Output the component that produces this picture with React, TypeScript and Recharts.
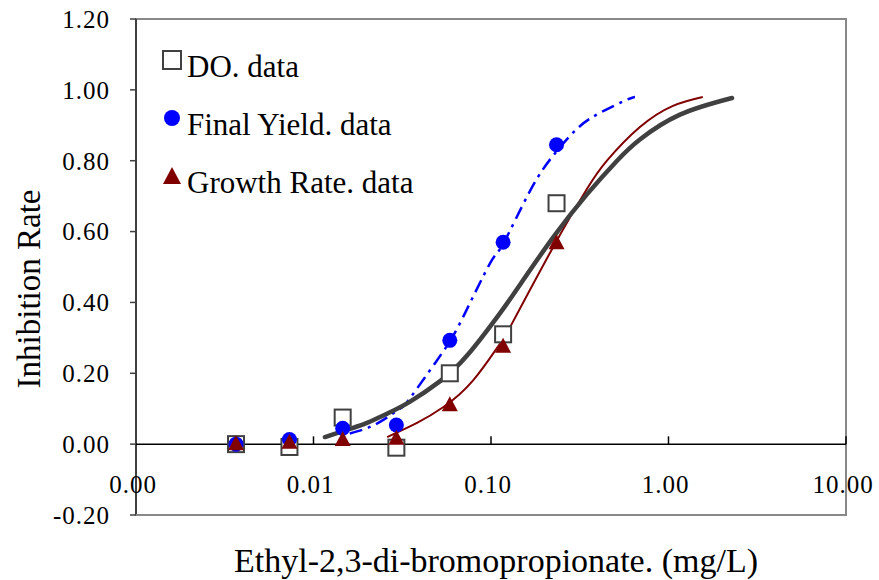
import React from 'react';
import {
  ComposedChart,
  Line,
  Scatter,
  XAxis,
  YAxis,
  ReferenceLine,
  ReferenceArea,
  Legend,
} from 'recharts';

// ---------------------------------------------------------------------------
// Data
// ---------------------------------------------------------------------------
const xTicks = [0.001, 0.01, 0.1, 1, 10];
const yTicks = [-0.2, 0, 0.2, 0.4, 0.6, 0.8, 1.0, 1.2];

// test concentrations (mg/L), two-fold dilution series
const concentrations = [0.00366, 0.00732, 0.0146, 0.0293, 0.0586, 0.117, 0.234];
const doValues = [0.0, -0.008, 0.075, -0.01, 0.2, 0.31, 0.68];
const yieldValues = [0.0, 0.013, 0.045, 0.054, 0.293, 0.57, 0.845];
const rateValues = [0.0, 0.004, 0.012, 0.015, 0.11, 0.275, 0.567];

// fitted dose-response curves, sampled off the figure
const doFitX = [0.0116, 0.0160, 0.020, 0.026, 0.035, 0.0517, 0.0733, 0.1125, 0.1457, 0.2234, 0.347, 0.513, 0.69, 1.16, 2.28];
const doFitY = [0.02, 0.043, 0.06, 0.086, 0.12, 0.178, 0.25, 0.37, 0.45, 0.583, 0.705, 0.8, 0.86, 0.93, 0.977];

const yieldFitX = [0.016, 0.02, 0.025, 0.0307, 0.035, 0.0497, 0.0586, 0.0698, 0.0987, 0.117, 0.166, 0.2244, 0.305, 0.411, 0.583, 0.647];
const yieldFitY = [0.03, 0.045, 0.07, 0.1, 0.13, 0.237, 0.29, 0.36, 0.51, 0.565, 0.715, 0.815, 0.89, 0.935, 0.972, 0.98];

const rateFitX = [0.026, 0.0383, 0.0537, 0.0793, 0.1125, 0.128, 0.2234, 0.347, 0.45, 0.69, 1.06, 1.56];
const rateFitY = [0.02, 0.06, 0.104, 0.18, 0.284, 0.33, 0.555, 0.72, 0.80, 0.895, 0.955, 0.98];

const zip = (xs: number[], ys: number[]) => xs.map((x, i) => ({ x, y: ys[i] }));

const doPoints = zip(concentrations, doValues);
const yieldPoints = zip(concentrations, yieldValues);
const ratePoints = zip(concentrations, rateValues);
const doFit = zip(doFitX, doFitY);
const yieldFit = zip(yieldFitX, yieldFitY);
const rateFit = zip(rateFitX, rateFitY);

const SERIF = '"Liberation Serif", "Times New Roman", serif';

// ---------------------------------------------------------------------------
// Marker shapes
// ---------------------------------------------------------------------------
const SquareMark = ({ cx, cy }: any) => (
  <rect x={cx - 8} y={cy - 8} width={16} height={16} fill="#fff" stroke="#404040" strokeWidth={2} />
);
const CircleMark = ({ cx, cy }: any) => <circle cx={cx} cy={cy} r={7.5} fill="#0000ff" />;
const TriangleMark = ({ cx, cy }: any) => (
  <path d={`M${cx},${cy - 9} L${cx + 8},${cy + 6} L${cx - 8},${cy + 6} Z`} fill="#800000" />
);

const legendItems = [
  { label: 'DO. data', mark: <rect x={1} y={1} width={18} height={18} fill="#fff" stroke="#404040" strokeWidth={2} /> },
  { label: 'Final Yield. data', mark: <circle cx={10} cy={10} r={8} fill="#0000ff" /> },
  { label: 'Growth Rate. data', mark: <path d="M10,1 L19,18 L1,18 Z" fill="#800000" /> },
];

const LegendBox = () => (
  <div style={{ fontFamily: SERIF }}>
    {legendItems.map((it) => (
      <div key={it.label} style={{ position: 'relative', height: 58, lineHeight: '58px', fontSize: 31, color: '#000', whiteSpace: 'nowrap' }}>
        <svg width={20} height={20} style={{ position: 'absolute', left: 0, top: 12 }}>
          {it.mark}
        </svg>
        <span style={{ marginLeft: 25 }}>{it.label}</span>
      </div>
    ))}
  </div>
);

const XTick = ({ x, y, payload }: any) => (
  <text x={x - 3} y={y} dy={-30} textAnchor="middle" fontSize={25} fontFamily={SERIF} letterSpacing={1} fill="#000">
    {Number(payload.value).toFixed(2)}
  </text>
);

export default function App() {
  return (
    <div style={{ position: 'absolute', left: 0, top: 0, fontFamily: SERIF, background: '#fff' }}>
      <ComposedChart width={879} height={580} margin={{ top: 19, right: 33, bottom: 0, left: 0 }} style={{ fontFamily: SERIF }}>
        <XAxis
          dataKey="x"
          type="number"
          scale="log"
          domain={[0.001, 10]}
          ticks={xTicks}
          allowDataOverflow
          height={65}
          axisLine={{ stroke: '#888', strokeWidth: 2 }}
          tickLine={false}
          tick={<XTick />}
          label={{ value: 'Ethyl-2,3-di-bromopropionate. (mg/L)', position: 'insideBottom', offset: 8, dx: 5, fontSize: 34, fontFamily: SERIF, fill: '#000' }}
        />
        <YAxis
          type="number"
          domain={[-0.2, 1.2]}
          ticks={yTicks}
          allowDataOverflow
          width={136}
          axisLine={false}
          tickLine={{ stroke: '#404040', strokeWidth: 1.5 }}
          tickSize={6}
          tickMargin={20}
          tick={{ fontSize: 25, fill: '#000', fontFamily: SERIF, letterSpacing: 1 }}
          tickFormatter={(v: number) => v.toFixed(2)}
          label={{ value: 'Inhibition Rate', angle: -90, position: 'insideLeft', offset: 28, dy: 22, fontSize: 33, fontFamily: SERIF, fill: '#000', style: { textAnchor: 'middle' } }}
        />
        <ReferenceArea x1={0.001} x2={10} y1={-0.2} y2={1.2} fill="none" stroke="#888" strokeWidth={2} />
        <ReferenceLine x={0.001} stroke="#404040" strokeWidth={2} />
        <ReferenceLine y={0} stroke="#000" strokeWidth={1.5} />
        {xTicks.slice(1).map((t) => (
          <ReferenceLine key={t} segment={[{ x: t, y: 0 }, { x: t, y: 0.022 }]} stroke="#000" strokeWidth={1.5} />
        ))}

        <Line data={yieldFit} dataKey="y" type="natural" stroke="#0000ff" strokeWidth={2.5} strokeDasharray="13 6 3 6" dot={false} isAnimationActive={false} legendType="none" />
        <Line data={rateFit} dataKey="y" type="natural" stroke="#800000" strokeWidth={2} dot={false} isAnimationActive={false} legendType="none" />
        <Line data={doFit} dataKey="y" type="natural" stroke="#404040" strokeWidth={4.5} strokeLinecap="round" dot={false} isAnimationActive={false} legendType="none" />

        <Scatter data={doPoints} dataKey="y" shape={SquareMark} isAnimationActive={false} />
        <Scatter data={yieldPoints} dataKey="y" shape={CircleMark} isAnimationActive={false} />
        <Scatter data={ratePoints} dataKey="y" shape={TriangleMark} isAnimationActive={false} />

        <Legend
          layout="vertical"
          align="center"
          verticalAlign="middle"
          content={<LegendBox />}
          wrapperStyle={{ left: 162, top: 38, width: 320, height: 174 }}
        />
      </ComposedChart>
    </div>
  );
}
